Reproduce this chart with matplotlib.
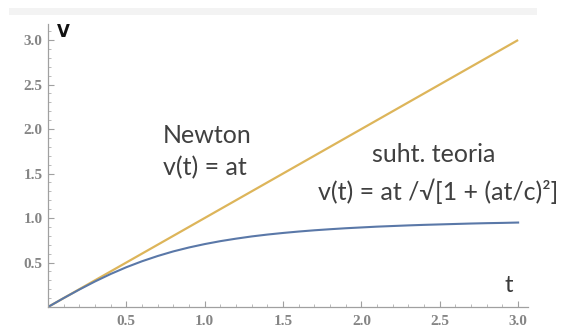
import matplotlib
matplotlib.use("Agg")
import matplotlib.pyplot as plt
from matplotlib.patches import Rectangle
from matplotlib.ticker import MultipleLocator

# time axis samples and the two velocity curves (a = c = 1)
t = [0.0, 0.1, 0.2, 0.3, 0.4, 0.5, 0.6, 0.7, 0.8, 0.9, 1.0,
     1.1, 1.2, 1.3, 1.4, 1.5, 1.6, 1.7, 1.8, 1.9, 2.0,
     2.1, 2.2, 2.3, 2.4, 2.5, 2.6, 2.7, 2.8, 2.9, 3.0]
v_rel = [0.0, 0.1, 0.196, 0.287, 0.371, 0.447, 0.514, 0.573, 0.625, 0.669, 0.707,
         0.74, 0.768, 0.793, 0.814, 0.832, 0.848, 0.862, 0.874, 0.885, 0.894,
         0.903, 0.91, 0.917, 0.923, 0.928, 0.933, 0.938, 0.942, 0.945, 0.949]
t_newton = [0.0, 3.0]
v_newton = [0.0, 3.0]

major_ticks = [0.5, 1.0, 1.5, 2.0, 2.5, 3.0]
tick_labels = ["0.5", "1.0", "1.5", "2.0", "2.5", "3.0"]

fig = plt.figure(figsize=(5.77, 3.30), dpi=100)
fig.patches.append(Rectangle((9 / 577, 315 / 330), 528 / 577, 7 / 330, transform=fig.transFigure,
                             facecolor="#f3f3f3", edgecolor="none", zorder=0))

ax = fig.add_axes([48 / 577, 23 / 330, 480 / 577, 283 / 330])
ax.set_xlim(0, 3.063)
ax.set_ylim(0, 3.18)
ax.patch.set_alpha(0)

ax.plot(t_newton, v_newton, color="#DDB55A", lw=1.6, solid_capstyle="butt")
ax.plot(t, v_rel, color="#5A78A8", lw=1.5)

for side in ("top", "right"):
    ax.spines[side].set_visible(False)
for side in ("left", "bottom"):
    ax.spines[side].set_color("#a0a0a0")
    ax.spines[side].set_linewidth(0.9)

ax.set_xticks(major_ticks)
ax.set_xticklabels(tick_labels)
ax.set_yticks(major_ticks)
ax.set_yticklabels(tick_labels)
ax.xaxis.set_minor_locator(MultipleLocator(0.1))
ax.yaxis.set_minor_locator(MultipleLocator(0.1))
ax.tick_params(which="major", direction="in", length=4, width=0.8, color="#a0a0a0",
               labelsize=11, labelcolor="#858585")
ax.tick_params(axis="x", which="major", pad=6)
ax.tick_params(axis="y", which="major", pad=4)
ax.tick_params(which="minor", direction="in", length=2, width=0.6, color="#b0b0b0")
for lab in ax.get_xticklabels() + ax.get_yticklabels():
    lab.set_fontfamily("Liberation Serif")
    lab.set_fontweight("bold")

ax.text(0.10, 3.09, "V", fontsize=12, fontfamily="DejaVu Sans", fontweight="bold",
        color="#111111", ha="center", va="center")
ax.text(2.94, 0.17, "t", fontsize=17, fontfamily="Lato", color="#3a3a3a",
        ha="center", va="baseline")

ax.text(0.734, 1.843, "Newton", fontsize=18, fontfamily="Lato", color="#404040",
        ha="left", va="baseline")
ax.text(0.734, 1.483, "v(t) = at", fontsize=18, fontfamily="Lato", color="#404040",
        ha="left", va="baseline")
ax.text(2.068, 1.63, "suht. teoria", fontsize=18, fontfamily="Lato", color="#404040",
        ha="left", va="baseline")
ax.text(1.723, 1.20, "v(t) = at /√[1 + (at/c)²]", fontsize=18,
        fontfamily=["Lato", "DejaVu Sans"], color="#404040", ha="left", va="baseline")

fig.savefig("out.png", dpi=100, facecolor="white")
